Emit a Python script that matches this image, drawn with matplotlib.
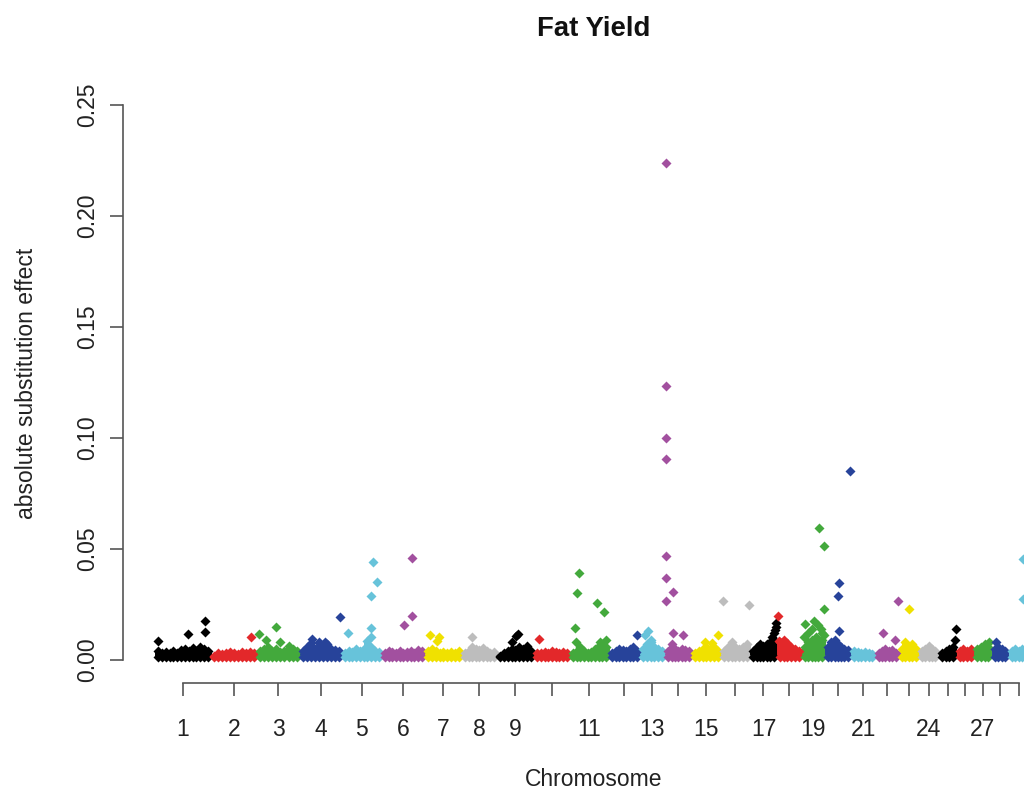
import numpy as np
import matplotlib
matplotlib.use("Agg")
import matplotlib.pyplot as plt

plt.rcParams['font.family'] = ['Liberation Sans', 'DejaVu Sans']

# chromosome lengths in Mb
chrom_len = [160, 131, 123, 120, 114, 123, 106, 100, 106, 103, 111, 89, 71, 77, 83,
             83, 77, 71, 66, 74, 71, 66, 57, 57, 51, 51, 49, 49, 57]
palette = ['#000000', '#E3282A', '#43A93C', '#27439A', '#67C3DA', '#A2509F', '#F0E100', '#BDBDBD']
tick_labels = ['1', '2', '3', '4', '5', '6', '7', '8', '9', '', '11', '', '13', '', '15',
               '', '17', '', '19', '', '21', '', '', '24', '', '', '27', '', '']

# top of the dense cloud of small effects, per chromosome
band_top = [
    [0.004, 0.003, 0.0035, 0.003, 0.004, 0.003, 0.0045, 0.005, 0.004, 0.0055, 0.004, 0.006, 0.005, 0.004],
    [0.002, 0.003, 0.0025, 0.003, 0.0035, 0.003, 0.0025, 0.0035, 0.003, 0.0035, 0.003],
    [0.004, 0.005, 0.006, 0.004, 0.005, 0.0035, 0.004, 0.0065, 0.005, 0.004],
    [0.004, 0.006, 0.0075, 0.005, 0.008, 0.006, 0.007, 0.005, 0.0045, 0.004],
    [0.003, 0.004, 0.0035, 0.005, 0.004, 0.005, 0.0085, 0.006, 0.004, 0.0035],
    [0.003, 0.004, 0.0035, 0.003, 0.004, 0.003, 0.0035, 0.004, 0.003, 0.0045, 0.004],
    [0.004, 0.005, 0.004, 0.003, 0.0035, 0.003, 0.0035, 0.003, 0.004],
    [0.003, 0.004, 0.006, 0.005, 0.0045, 0.0055, 0.004, 0.003, 0.0035],
    [0.002, 0.003, 0.004, 0.005, 0.0045, 0.006, 0.005, 0.0065, 0.004],
    [0.003, 0.003, 0.0035, 0.003, 0.004, 0.0035, 0.003, 0.0035, 0.003],
    [0.003, 0.004, 0.006, 0.004, 0.003, 0.0035, 0.005, 0.0065, 0.007, 0.006],
    [0.003, 0.004, 0.005, 0.0045, 0.004, 0.005, 0.006, 0.004],
    [0.005, 0.007, 0.008, 0.006, 0.005, 0.004],
    [0.004, 0.007, 0.005, 0.004, 0.005, 0.0045, 0.004],
    [0.003, 0.004, 0.005, 0.006, 0.005, 0.006, 0.004],
    [0.004, 0.006, 0.008, 0.006, 0.005, 0.006, 0.007],
    [0.004, 0.006, 0.007, 0.0065, 0.007, 0.008, 0.009],
    [0.008, 0.009, 0.0075, 0.006, 0.005, 0.004],
    [0.006, 0.008, 0.009, 0.008, 0.007, 0.009],
    [0.006, 0.008, 0.009, 0.007, 0.006, 0.005, 0.0045],
    [0.004, 0.0035, 0.003, 0.0035, 0.003, 0.0025],
    [0.003, 0.004, 0.005, 0.004, 0.0045, 0.003],
    [0.005, 0.008, 0.006, 0.007, 0.005],
    [0.004, 0.005, 0.0065, 0.005, 0.004],
    [0.003, 0.004, 0.005, 0.006],
    [0.004, 0.005, 0.004, 0.005],
    [0.005, 0.006, 0.007, 0.006],
    [0.005, 0.006, 0.005, 0.004],
    [0.004, 0.005, 0.004, 0.005, 0.004],
]

# SNPs standing out of the cloud: chromosome, position within chromosome (Mb), effect
snp_chr = [1, 1, 1, 1, 2, 3, 3, 3, 3, 4, 4, 4, 5, 5, 5, 5, 5, 5, 6, 6, 6, 7, 7, 7, 8,
           9, 9, 9, 10, 11, 11, 11, 11, 11, 11, 11, 11, 12, 13, 13, 13,
           14, 14, 14, 14, 14, 14, 14, 14, 14, 14, 15, 15, 15, 16, 16,
           17, 17, 17, 17, 17, 18, 18,
           19, 19, 19, 19, 19, 19, 19, 19, 19, 19, 19, 19, 19,
           20, 20, 20, 20, 22, 22, 22, 23, 25, 25, 27, 28, 29, 29]
snp_pos = [9, 94, 143, 143, 114, 5, 54, 26, 66, 34, 71, 114, 17, 83, 100, 89, 83, 83, 63, 86, 86, 14, 40, 34, 29,
           43, 60, 54, 14, 26, 20, 77, 97, 14, 17, 86, 103, 80, 23, 14, 31,
           3, 3, 3, 3, 3, 3, 3, 23, 23, 51, 37, 74, 57, 6, 80,
           63, 69, 71, 74, 74, 3, 6,
           49, 63, 63, 9, 34, 6, 63, 17, 29, 46, 54, 57, 40,
           71, 40, 37, 40, 20, 54, 63, 29, 49, 46, 43, 14, 40, 40]
snp_eff = [0.0086, 0.0117, 0.0176, 0.0126, 0.0104, 0.0117, 0.0149, 0.009, 0.0081, 0.0095, 0.008, 0.0194,
           0.0122, 0.029, 0.035, 0.044, 0.0144, 0.0105, 0.0158, 0.0198, 0.046, 0.0113, 0.0104, 0.0086, 0.0104,
           0.008, 0.0117, 0.011, 0.0095, 0.039, 0.030, 0.0257, 0.0216, 0.0144, 0.0081, 0.008, 0.009,
           0.0113, 0.013, 0.0113, 0.009,
           0.2239, 0.1234, 0.100, 0.0905, 0.0468, 0.0369, 0.0266, 0.0306, 0.0122, 0.0113,
           0.008, 0.0113, 0.0077, 0.0266, 0.0248,
           0.0104, 0.012, 0.0135, 0.015, 0.0165, 0.0198, 0.0086,
           0.0595, 0.0514, 0.023, 0.0162, 0.0176, 0.0104, 0.0113, 0.012, 0.014, 0.0158, 0.014, 0.012, 0.0104,
           0.085, 0.0347, 0.0288, 0.013, 0.0122, 0.009, 0.0266, 0.023, 0.014, 0.009, 0.008, 0.008, 0.0455, 0.0275]

chrom_len = np.array(chrom_len, dtype=float)
offsets = np.concatenate([[0], np.cumsum(chrom_len)[:-1]])
centers = offsets + chrom_len / 2

fig = plt.figure(figsize=(10.24, 7.95), dpi=100)
ax = fig.add_axes([0.1201, 0.1409, 0.9199, 0.7547])

# dense band of near-zero effects
for i, tops in enumerate(band_top):
    col = palette[i % 8]
    xs = offsets[i] + np.linspace(9, chrom_len[i] - 9, len(tops))
    ax.vlines(xs, 0.0013, tops, colors=col, lw=5, zorder=1)
    ax.plot(xs, tops, 'D', ms=5.3, color=col, mec='none', zorder=2)
    ax.plot(xs, [0.0013] * len(tops), 'D', ms=5.3, color=col, mec='none', zorder=2)

# larger effects
for c, p, e in zip(snp_chr, snp_pos, snp_eff):
    ax.plot(offsets[c - 1] + p, e, 'D', ms=5.3, color=palette[(c - 1) % 8], mec='none', zorder=3)

ax.set_xlim(-91.4, 2600)
ax.set_ylim(-0.01036, 0.2599)

for s in ['top', 'right']:
    ax.spines[s].set_visible(False)
ax.spines['left'].set_bounds(0, 0.25)
ax.spines['bottom'].set_bounds(centers[0], centers[-1])
for s in ['left', 'bottom']:
    ax.spines[s].set_color('#555555')
    ax.spines[s].set_linewidth(1.2)

ax.set_xticks(centers)
ax.set_xticklabels(tick_labels)
yt = [0, 0.05, 0.10, 0.15, 0.20, 0.25]
ax.set_yticks(yt)
ax.set_yticklabels(['%.2f' % v for v in yt], rotation=90, va='center')
ax.tick_params(axis='both', length=9.5, width=1.2, color='#555555', labelsize=16.5, labelcolor='#222222')
ax.tick_params(axis='x', pad=16)
ax.tick_params(axis='y', pad=8)

ax.set_title('Fat Yield', fontsize=19.8, fontweight='bold', pad=34, color='#111111')
ax.set_xlabel('Chromosome', fontsize=16.5, labelpad=19, color='#222222')
ax.set_ylabel('absolute substitution effect', fontsize=16.5, labelpad=27, color='#222222')

fig.savefig('out.png', dpi=100)
